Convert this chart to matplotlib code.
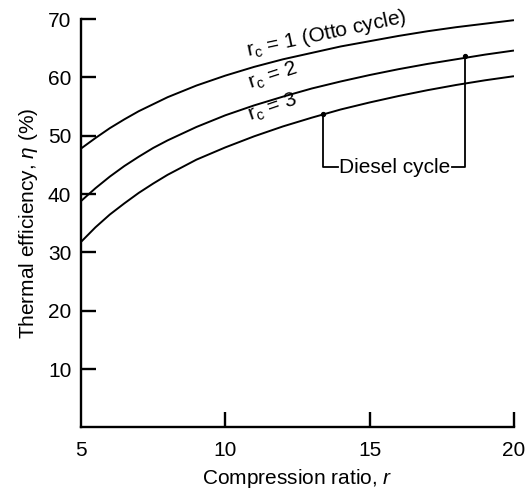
import matplotlib
matplotlib.use("Agg")
import matplotlib.pyplot as plt

plt.rcParams['font.family'] = ['Liberation Sans', 'DejaVu Sans']
plt.rcParams['mathtext.fontset'] = 'custom'
plt.rcParams['mathtext.rm'] = 'Liberation Sans'
plt.rcParams['mathtext.it'] = 'Liberation Sans:italic'

# Compression ratio values (x)
r_values = [5, 5.5, 6, 6.5, 7, 7.5, 8, 9, 10, 11, 12, 13, 14, 15, 16, 17, 18, 19, 20]
# Thermal efficiency (%)
eta_otto = [47.8, 49.6, 51.3, 52.8, 54.2, 55.4, 56.6, 58.6, 60.3, 61.8, 63.1, 64.2, 65.3, 66.2, 67.1, 67.9, 68.6, 69.2, 69.8]
eta_rc2 = [38.8, 41.0, 43.0, 44.8, 46.4, 47.9, 49.2, 51.5, 53.5, 55.2, 56.7, 58.1, 59.3, 60.4, 61.4, 62.3, 63.1, 63.9, 64.6]
eta_rc3 = [31.8, 34.3, 36.5, 38.4, 40.2, 41.8, 43.3, 45.9, 48.0, 49.9, 51.6, 53.1, 54.5, 55.7, 56.8, 57.8, 58.7, 59.5, 60.2]

x_ticklabels_pos = [5, 10, 15, 20]
y_ticks = [10, 20, 30, 40, 50, 60, 70]

FS = 15

fig = plt.figure(figsize=(5.27, 4.95), dpi=100)
ax = fig.add_axes([0.1537, 0.1364, 0.8216, 0.8252])

lw = 1.4
ax.plot(r_values, eta_otto, color='black', lw=lw, solid_capstyle='butt')
ax.plot(r_values, eta_rc2, color='black', lw=lw, solid_capstyle='butt')
ax.plot(r_values, eta_rc3, color='black', lw=lw, solid_capstyle='butt')

ax.set_xlim(5, 20)
ax.set_ylim(0, 70)

for s in ['top', 'right']:
    ax.spines[s].set_visible(False)
for s in ['left', 'bottom']:
    ax.spines[s].set_linewidth(1.7)
    ax.spines[s].set_capstyle('projecting')

ax.set_xticks(x_ticklabels_pos)
ax.set_xticklabels([str(v) for v in x_ticklabels_pos])
ax.set_yticks(y_ticks)
ax.tick_params(axis='both', direction='in', length=11, width=1.7, labelsize=FS, color='black')
ax.tick_params(axis='x', pad=10)
ax.tick_params(axis='y', pad=7)
# hide the tick mark at x=5 (only label shown)
ax.xaxis.get_major_ticks()[0].tick1line.set_visible(False)

ax.set_xlabel(r'Compression ratio, $\it{r}$', fontsize=FS, labelpad=5)
ax.set_ylabel(r'Thermal efficiency, $\it{\eta}$ (%)', fontsize=FS, labelpad=6)

# curve labels
ax.text(13.52, 67.5, r'r$_\mathregular{c}$ = 1 (Otto cycle)', fontsize=FS, rotation=12,
        ha='center', va='center', rotation_mode='anchor')
ax.text(11.65, 60.3, r'r$_\mathregular{c}$ = 2', fontsize=FS, rotation=18,
        ha='center', va='center', rotation_mode='anchor')
ax.text(11.65, 54.8, r'r$_\mathregular{c}$ = 3', fontsize=FS, rotation=19,
        ha='center', va='center', rotation_mode='anchor')

# Diesel cycle bracket
y_br = 44.6
p1 = (13.4, 53.8)
p2 = (18.32, 63.6)
ax.plot([p1[0], p1[0], 13.92], [p1[1], y_br, y_br], color='black', lw=1.3)
ax.plot([17.84, p2[0], p2[0]], [y_br, y_br, p2[1]], color='black', lw=1.3)
ax.plot([p1[0], p2[0]], [p1[1], p2[1]], 'o', color='black', ms=2.8, ls='none')
ax.text(15.88, y_br, 'Diesel cycle', fontsize=FS, ha='center', va='center')

fig.savefig('out.png', dpi=100)
